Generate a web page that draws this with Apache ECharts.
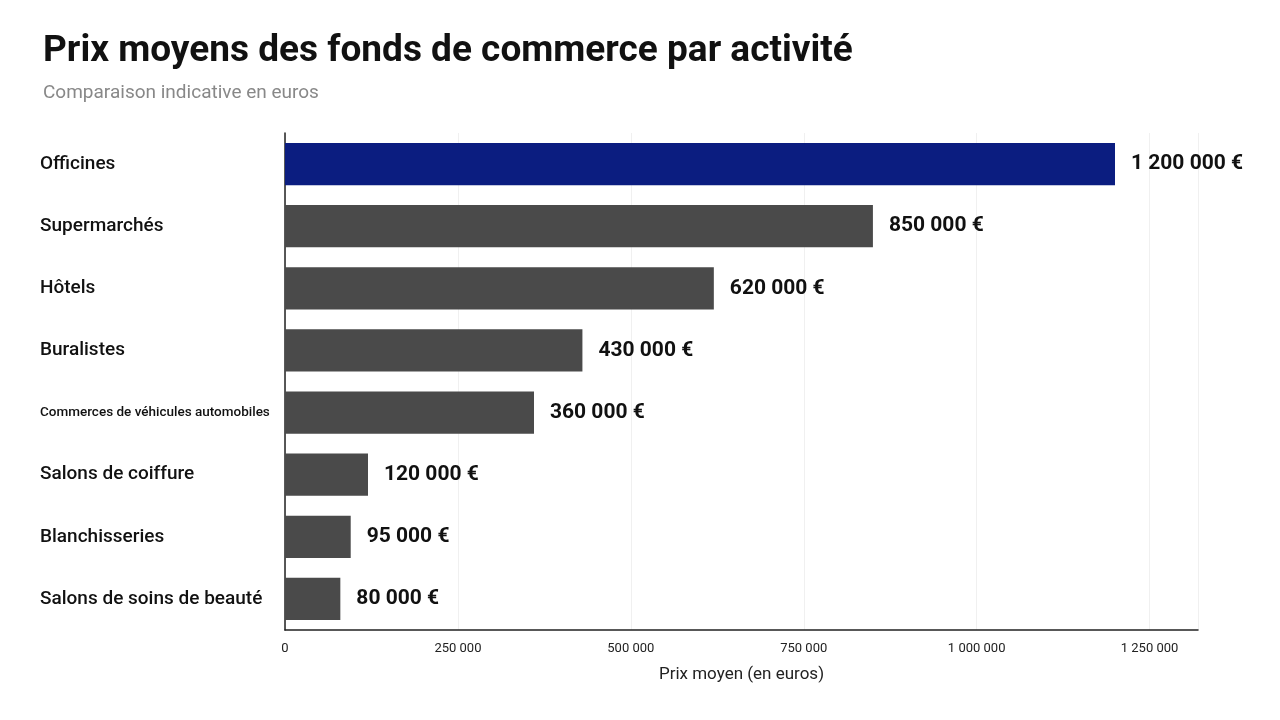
<!DOCTYPE html>
<html>
<head>
<meta charset="utf-8">
<script src="https://cdn.jsdelivr.net/npm/echarts@6/dist/echarts.min.js"></script>
<style>
  html, body { margin: 0; padding: 0; background: #fff; }
  #chart { width: 1280px; height: 720px; }
</style>
</head>
<body>
<div id="chart"></div>
<script>
// categories top to bottom
const categories = ['Officines', 'Supermarchés', 'Hôtels', 'Buralistes',
  'Commerces de véhicules automobiles', 'Salons de coiffure', 'Blanchisseries',
  'Salons de soins de beauté'];
const prices = [1200000, 850000, 620000, 430000, 360000, 120000, 95000, 80000];
const tickStep = 250000;

const FONT = '"Liberation Sans Narrow", Roboto, sans-serif';

// format 1200000 -> "1 200 000"
function fmt(v) {
  return String(v).replace(/\B(?=(\d{3})+(?!\d))/g, ' ');
}

const chart = echarts.init(document.getElementById('chart'));
chart.setOption({
  backgroundColor: '#ffffff',
  title: {
    text: 'Prix moyens des fonds de commerce par activité',
    subtext: 'Comparaison indicative en euros',
    left: 38, top: 28,
    itemGap: 14,
    textStyle: { fontFamily: FONT, fontSize: 37, fontWeight: 'bold', color: '#111' },
    subtextStyle: { fontFamily: FONT, fontSize: 19, color: '#888' }
  },
  grid: { left: 285, right: 82, top: 133, bottom: 90 },
  xAxis: {
    type: 'value',
    min: 0,
    max: 1320000,
    interval: tickStep,
    name: 'Prix moyen (en euros)',
    nameLocation: 'middle',
    nameGap: 36,
    nameTextStyle: { fontFamily: FONT, fontSize: 17, color: '#222' },
    axisLine: { show: true, lineStyle: { color: '#222', width: 1.5 } },
    axisTick: { show: false },
    splitLine: { show: true, lineStyle: { color: '#f0f0f0' } },
    axisLabel: {
      showMaxLabel: false,
      fontFamily: FONT, fontSize: 13, color: '#222', margin: 12,
      formatter: v => fmt(v)
    }
  },
  yAxis: {
    type: 'category',
    data: categories,
    inverse: true,
    axisLine: { show: true, lineStyle: { color: '#222', width: 1.5 } },
    axisTick: { show: false },
    axisLabel: {
      fontFamily: FONT, fontSize: 19, color: '#111', fontWeight: 500,
      align: 'left', margin: 245,
      formatter: v => v.length > 28 ? '{s|' + v + '}' : v,
      rich: { s: { fontFamily: FONT, fontSize: 13.5, fontWeight: 500, color: '#111' } }
    }
  },
  series: [{
    type: 'bar',
    data: prices.map((v, i) => ({
      value: v,
      itemStyle: { color: i === 0 ? '#0b1d80' : '#4a4a4a' }
    })),
    barWidth: '68%',
    label: {
      show: true, position: 'right', distance: 16,
      fontFamily: FONT, fontSize: 21, fontWeight: 'bold', color: '#111',
      formatter: p => fmt(p.value) + ' €'
    }
  }]
});
</script>
</body>
</html>
